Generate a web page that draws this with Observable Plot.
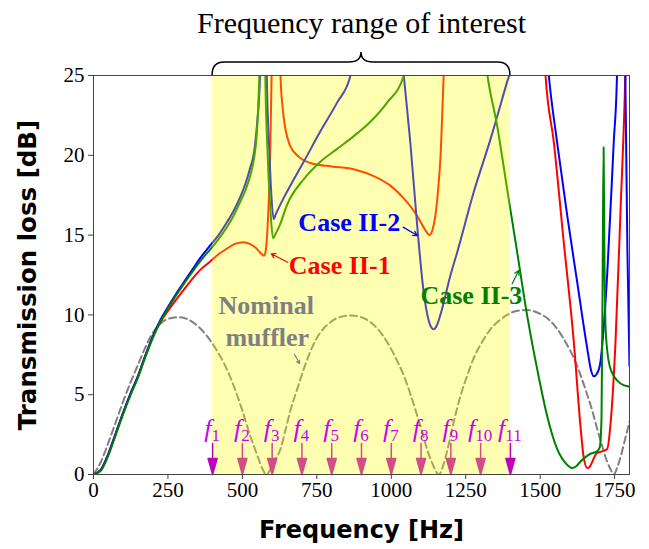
<!DOCTYPE html>
<html><head><meta charset="utf-8">
<script src="https://cdn.jsdelivr.net/npm/d3@7"></script>
<script src="https://cdn.jsdelivr.net/npm/@observablehq/plot@0.6"></script>
<style>body{margin:0;background:#fff}</style>
</head><body><div id="chart"></div>
<script>
// ---- data: [frequency Hz, transmission loss dB] ----
const nominal = [[0,0],[25,0.8],[50,2.0],[75,3.3],[100,4.6],[125,5.8],[150,6.9],[175,8.0],[200,8.9],[225,9.45],[250,9.75],[285,9.85],[320,9.7],[350,9.3],[380,8.7],[410,7.9],[440,6.9],[470,5.6],[500,4.0],[525,2.5],[550,1.2],[565,0.45],[580,0],[595,0.35],[610,0.9],[628,1.6],[645,2.8],[661,4.0],[685,5.4],[706,6.6],[735,8.0],[762,8.9],[790,9.45],[818,9.8],[863,9.97],[900,9.85],[930,9.55],[960,9.0],[986,8.3],[1015,7.3],[1042,6.2],[1065,5.0],[1087,3.7],[1105,2.6],[1120,1.6],[1140,0.6],[1160,0],[1175,0.6],[1188,1.5],[1210,3.3],[1232,4.9],[1255,6.2],[1277,7.3],[1305,8.3],[1333,9.1],[1360,9.6],[1389,10.0],[1420,10.25],[1456,10.3],[1490,10.15],[1523,9.8],[1550,9.3],[1579,8.5],[1600,7.8],[1624,6.8],[1640,6.0],[1658,5.0],[1675,4.0],[1691,2.9],[1708,1.8],[1725,0.8],[1737,0.3],[1747,0],[1758,0.4],[1770,1.1],[1785,2.2],[1800,3.3]];

const caseII1 = [[0,0],[25,0.3],[50,1.3],[75,2.6],[100,3.9],[125,5.1],[150,6.2],[175,7.5],[200,8.65],[225,9.55],[250,10.25],[275,10.9],[300,11.5],[336,12.35],[360,12.85],[392,13.35],[420,13.8],[448,14.15],[475,14.45],[504,14.55],[525,14.45],[545,14.2],[560,13.9],[573,13.7],[579,14.1],[584,15.3],[589,17.4],[594,20.5],[598,25],[605,38],[613,45],[621,38],[628,25],[635,23.0],[645,21.6],[660,20.6],[690,19.9],[740,19.45],[800,19.3],[880,19.1],[941,18.7],[997,18.1],[1042,17.3],[1087,16.2],[1108,15.5],[1120,15.15],[1129,15.0],[1138,15.3],[1148,16.2],[1158,18.0],[1165,19.8],[1176,25],[1200,34],[1350,45],[1495,34],[1518,25],[1546,20.8],[1579,14.6],[1613,8.3],[1635,3.1],[1646,1.1],[1658,0.4],[1667,0.5],[1675,0.8],[1691,1.35],[1708,1.45],[1725,1.6],[1736,3.1],[1753,8.3],[1770,16.6],[1786,25],[1800,38]];

const caseII2 = [[0,0],[25,0.3],[50,1.3],[75,2.6],[100,3.9],[125,5.1],[150,6.2],[175,7.5],[200,8.7],[225,9.7],[250,10.5],[275,11.25],[300,11.95],[336,12.95],[360,13.6],[392,14.35],[420,15.0],[448,15.8],[470,16.5],[493,17.4],[510,18.2],[526,19.2],[540,20.3],[549,21.9],[556,23.6],[561,26],[566,50],[574,50],[582,25],[590,20.5],[597,17.6],[605,16.0],[612,16.3],[638,17.3],[670,18.4],[706,19.6],[762,21.5],[818,23.3],[863,25],[950,45],[1042,25],[1064,20.8],[1087,15.6],[1109,11.4],[1125,9.7],[1135,9.2],[1143,9.1],[1153,9.35],[1165,10.0],[1199,12.5],[1221,13.9],[1277,17.7],[1333,21.0],[1389,24.6],[1400,25.3],[1465,45],[1529,25],[1557,20.8],[1591,16.2],[1624,12.1],[1658,7.9],[1670,6.6],[1680,6.15],[1690,6.3],[1702,7.0],[1712,8.9],[1725,12.5],[1747,20.8],[1758,25],[1772,45],[1786,25],[1793,14],[1800,6.8]];

const caseII3 = [[0,0],[25,0.25],[50,1.2],[75,2.5],[100,3.8],[125,5.0],[150,6.1],[175,7.4],[200,8.6],[225,9.6],[250,10.4],[275,11.15],[300,11.85],[336,12.8],[360,13.4],[392,14.1],[420,14.75],[448,15.5],[470,16.2],[493,17.1],[510,17.8],[526,18.7],[540,19.9],[549,21.5],[554,23.5],[558,26],[562,50],[570,50],[577,25],[585,20],[595,16.3],[603,14.8],[612,15.1],[625,15.6],[650,16.9],[706,18.5],[762,19.6],[818,20.4],[874,21.2],[930,22.1],[986,23.3],[1042,25],[1100,35],[1180,45],[1270,35],[1323,25],[1355,21.9],[1389,17.9],[1423,13.9],[1456,10.0],[1490,6.6],[1523,3.7],[1557,1.6],[1591,0.6],[1607,0.4],[1620,0.5],[1635,0.8],[1669,1.3],[1691,1.45],[1700,1.7],[1706,3.5],[1710,13],[1713,20.5],[1716,13],[1719,9.5],[1725,7.8],[1735,6.7],[1750,6.1],[1770,5.7],[1800,5.5]];

const fFreqs = [400,500,600,700,800,900,1000,1100,1200,1300,1400];
const fSubs = ["1","2","3","4","5","6","7","8","9","10","11"];
const rangeOfInterest = [400, 1400];
const xTicks = [0,250,500,750,1000,1250,1500,1750];
const yTicks = [0,5,10,15,20,25];

const labels = [
  {text:"Case II-1", x:656, y:12.58, color:"#ff0000"},
  {text:"Case II-2", x:688, y:15.23, color:"#0000ff"},
  {text:"Case II-3", x:1098, y:10.7, color:"#008000"},
  {text:"Nominal", x:420, y:10.07, color:"#808080"},
  {text:"muffler", x:443, y:8.08, color:"#808080"}
];
const pointers = [
  {x1:652, y1:13.3, x2:597, y2:13.83, color:"#ff0000"},
  {x1:1040, y1:15.5, x2:1087, y2:14.97, color:"#0000ff"},
  {x1:1406, y1:11.95, x2:1428, y2:12.78, color:"#008000"},
  {x1:675, y1:7.52, x2:692, y2:6.95, color:"#808080"}
];

const serif = "Liberation Serif";
const sans = "DejaVu Sans";
const X = d => d[0], Y = d => d[1];

const arrowShape = {
  draw(context, l) {
    context.moveTo(0, 0);
    context.lineTo(0, -l + 16);
    context.moveTo(-4.5, -l + 16);
    context.lineTo(0, -l);
    context.lineTo(4.5, -l + 16);
    context.closePath();
  }
};
const fArrow = (data) => Plot.vector(data, {x: d => d, y: 0, length: 31, rotate: 180, anchor: "end",
  shape: arrowShape, stroke: "#bf00bf", fill: "#bf00bf", strokeWidth: 1.5});

const lineOpts = (c) => ({x: X, y: Y, stroke: c, strokeWidth: 2, curve: "monotone-x", clip: true});
const fmt = d => String(d);

const plot = Plot.plot({
  width: 649, height: 549,
  marginLeft: 93, marginRight: 20, marginTop: 75, marginBottom: 75,
  style: {fontFamily: serif, fontSize: "21px", background: "white", color: "black", overflow: "visible"},
  x: {domain: [0, 1800]},
  y: {domain: [0, 25]},
  marks: [
    Plot.line(nominal, {x: X, y: Y, stroke: "#808080", strokeWidth: 2, strokeDasharray: "7,4", curve: "monotone-x", clip: true}),
    Plot.line(caseII1, lineOpts("#ff0000")),
    Plot.line(caseII2, lineOpts("#0000ff")),
    Plot.line(caseII3, lineOpts("#008000")),
    fArrow(fFreqs.slice(1, -1)),
    Plot.rect([rangeOfInterest], {x1: d => d[0], x2: d => d[1], y1: 0, y2: 25, fill: "yellow", fillOpacity: 0.3}),
    fArrow([fFreqs[0], fFreqs[fFreqs.length - 1]]),
    Plot.text(labels, {x: "x", y: "y", text: "text", fill: "color", textAnchor: "start", lineAnchor: "bottom",
      fontWeight: "bold", fontSize: 26, fontFamily: serif}),
    Plot.arrow(pointers, {x1: "x1", y1: "y1", x2: "x2", y2: "y2", stroke: "color", strokeWidth: 1.2, headLength: 6}),
    Plot.frame({stroke: "#444", strokeWidth: 1}),
    Plot.axisX({ticks: xTicks, tickFormat: fmt, tickSize: 5, tickPadding: 3, label: null, stroke: "#444",
      fontFamily: serif, fontSize: 21, fill: "black"}),
    Plot.axisY({ticks: yTicks, tickFormat: fmt, tickSize: 5, tickPadding: 4, label: null, stroke: "#444",
      fontFamily: serif, fontSize: 21, fill: "black"}),
    Plot.text(["Frequency [Hz]"], {frameAnchor: "bottom", dy: 56, lineAnchor: "middle", textAnchor: "middle",
      fontFamily: sans, fontWeight: "bold", fontSize: 24}),
    Plot.text(["Transmission loss [dB]"], {frameAnchor: "left", dx: -65, rotate: -90, lineAnchor: "middle", textAnchor: "middle",
      fontFamily: sans, fontWeight: "bold", fontSize: 24.5}),
    Plot.text(["Frequency range of interest"], {x: (rangeOfInterest[0] + rangeOfInterest[1]) / 2, frameAnchor: "top",
      dy: -43, lineAnchor: "bottom", textAnchor: "middle", fontFamily: serif, fontSize: 30})
  ]
});

// brace and f-labels using the plot's scales
const sx = plot.scale("x"), sy = plot.scale("y");
const svg = d3.select(plot);
const x1 = sx.apply(rangeOfInterest[0]), x2 = sx.apply(rangeOfInterest[1]);
const xm = (x1 + x2) / 2, yb = sy.apply(25);
svg.append("path")
  .attr("d", `M${x1},${yb} Q${x1},${yb-13} ${x1+12},${yb-13} L${xm-12},${yb-13} Q${xm},${yb-13} ${xm},${yb-23} Q${xm},${yb-13} ${xm+12},${yb-13} L${x2-12},${yb-13} Q${x2},${yb-13} ${x2},${yb}`)
  .attr("fill", "none").attr("stroke", "black").attr("stroke-width", 1.5);

const fy = sy.apply(0) - 37;
const g = svg.append("g").attr("fill", "#cc00ee").attr("font-family", serif).attr("text-anchor", "middle");
fFreqs.forEach((f, i) => {
  const t = g.append("text").attr("x", sx.apply(f)).attr("y", fy);
  t.append("tspan").attr("font-style", "italic").attr("font-size", 26).text("f");
  t.append("tspan").attr("font-size", 17).attr("dy", 4).text(fSubs[i]);
});

document.getElementById("chart").appendChild(plot);
</script></body></html>
